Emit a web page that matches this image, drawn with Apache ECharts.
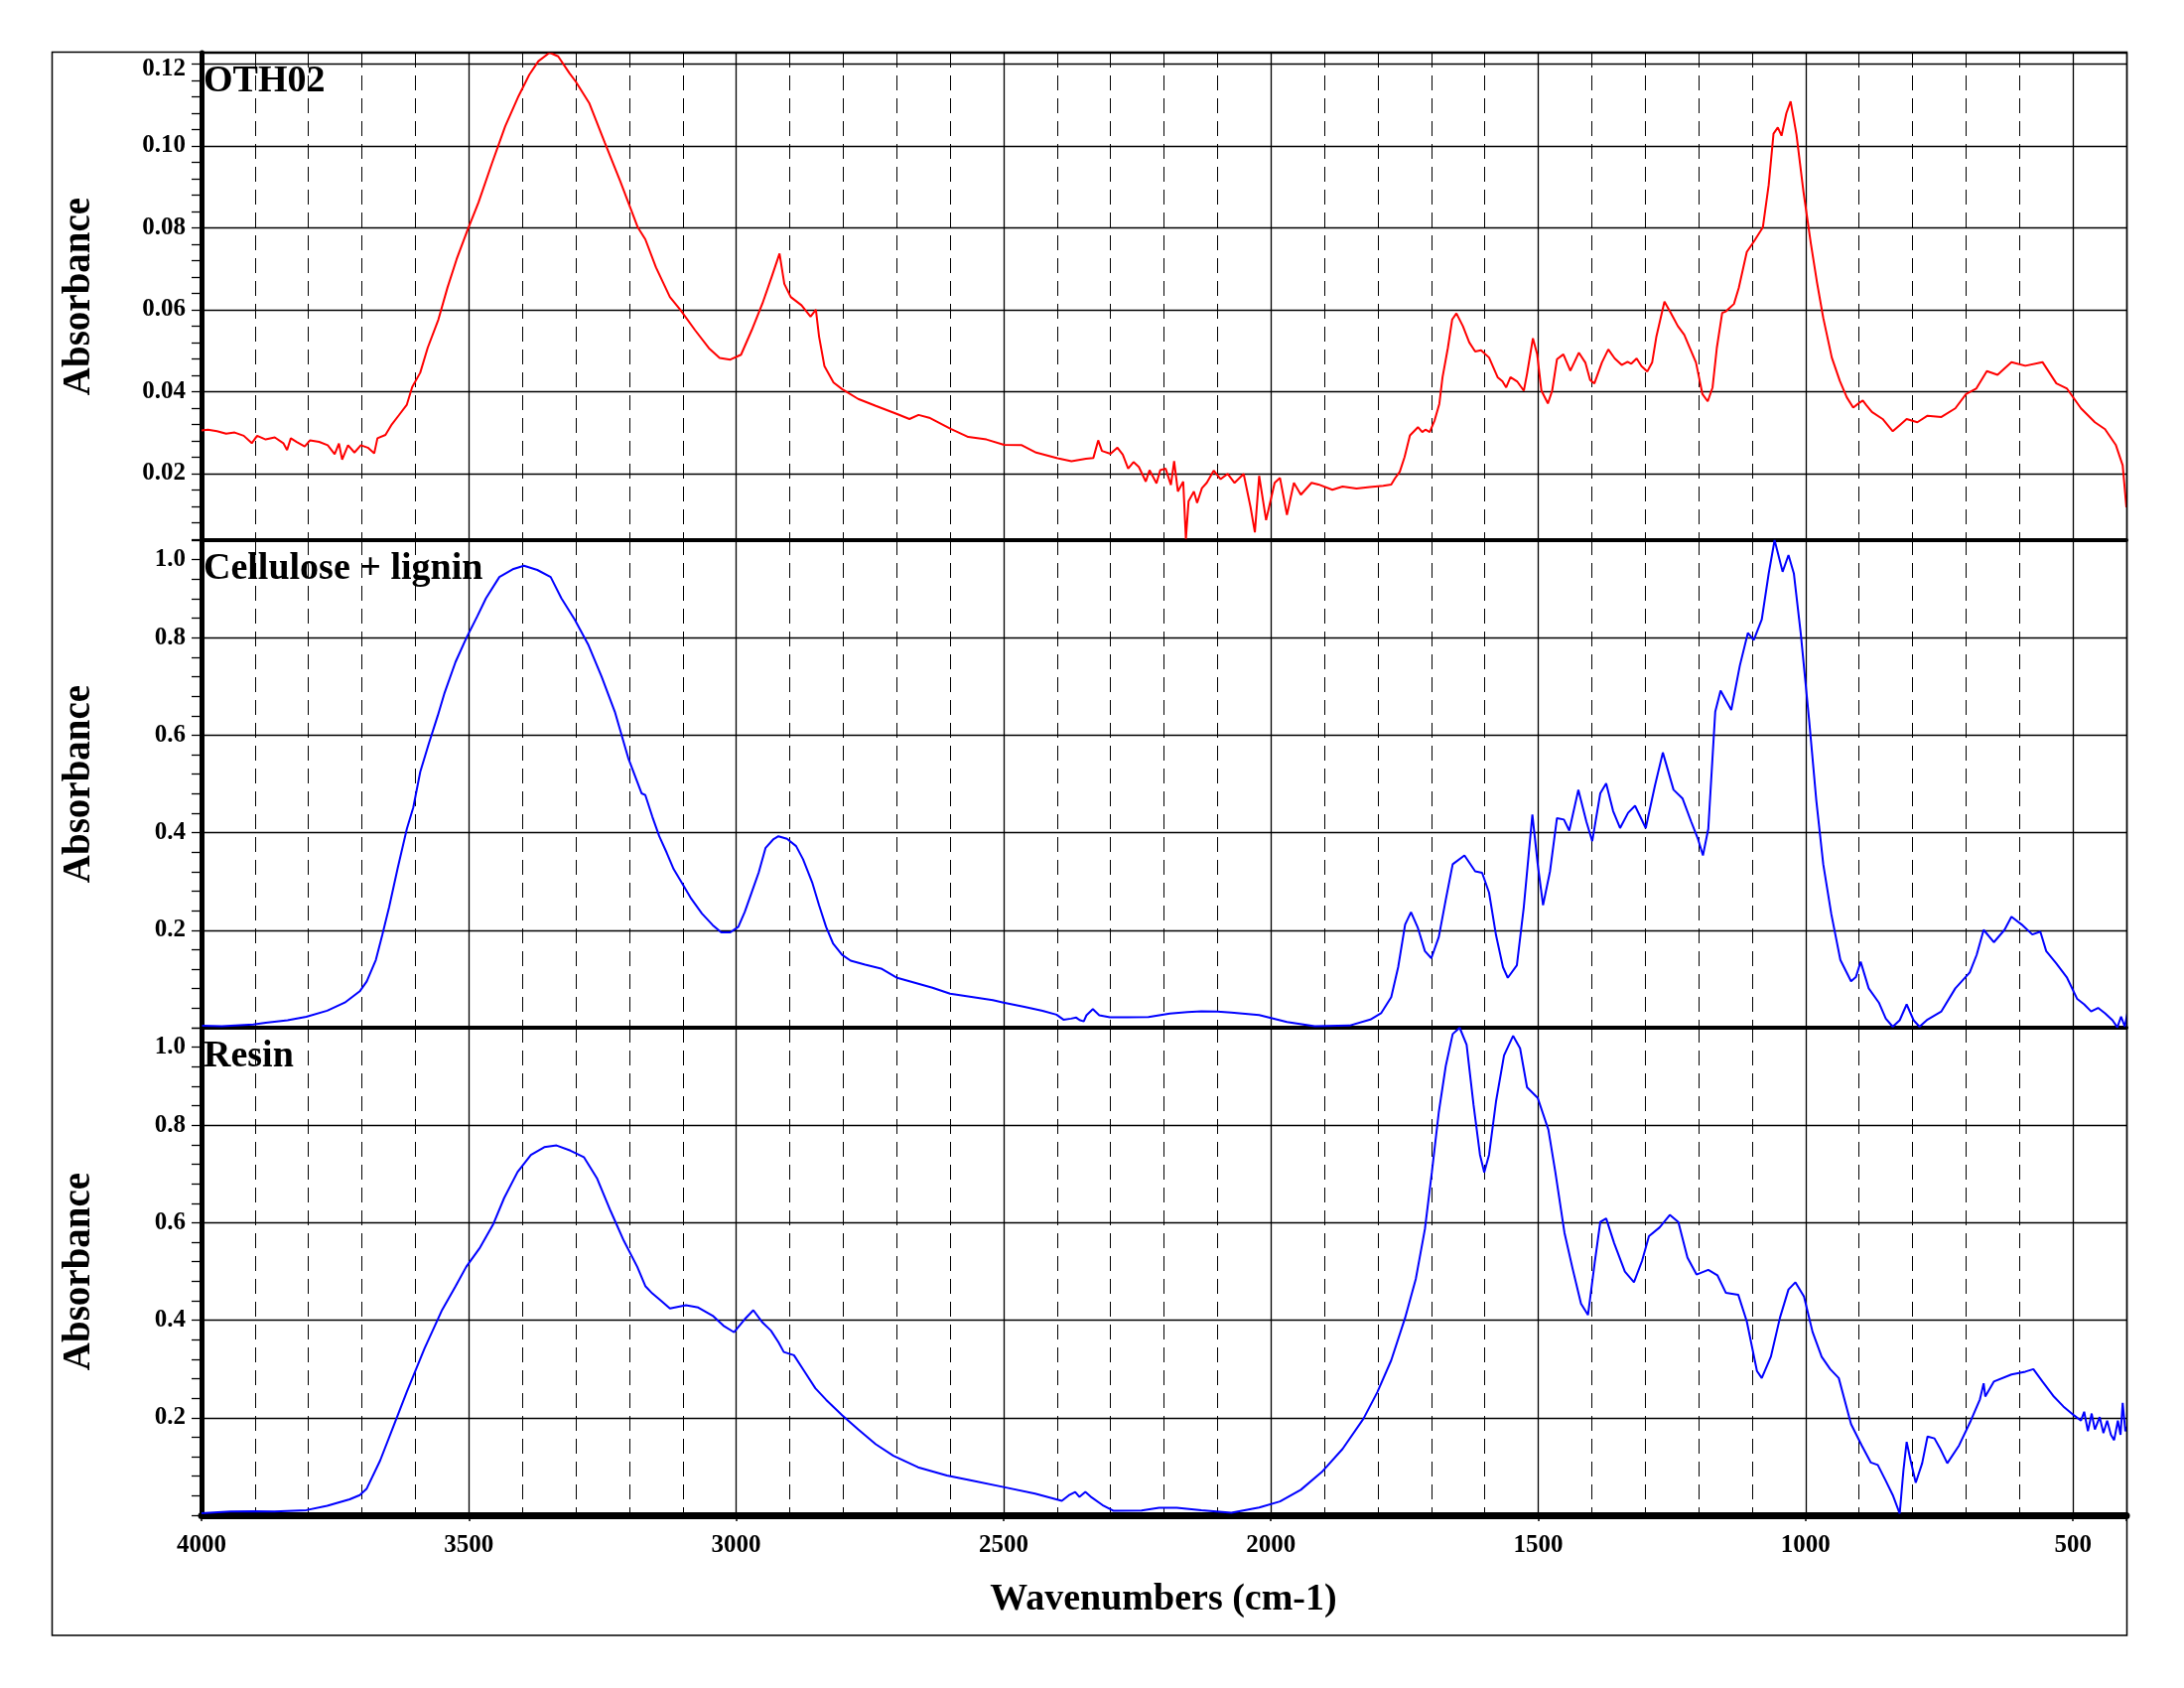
<!DOCTYPE html>
<html>
<head>
<meta charset="utf-8">
<script src="https://cdn.jsdelivr.net/npm/echarts@6/dist/echarts.min.js"></script>
<style>
html, body { margin: 0; background: #fff; }
#spectra { width: 2200px; height: 1700px; }
</style>
</head>
<body>
<div id="spectra"></div>
<script>
// [wavenumber cm-1, absorbance]
var oth02 = [[4000,0.0305],[3988,0.0307],[3971,0.0303],[3954,0.0297],[3938,0.0300],[3921,0.0292],[3906,0.0274],[3896,0.0292],[3880,0.0283],[3863,0.0288],[3847,0.0274],[3840,0.0257],[3833,0.0286],[3822,0.0277],[3807,0.0266],[3797,0.0281],[3780,0.0277],[3764,0.0269],[3751,0.0247],[3743,0.0273],[3737,0.0234],[3726,0.0269],[3714,0.0251],[3702,0.0269],[3689,0.0263],[3677,0.0249],[3671,0.0286],[3656,0.0294],[3644,0.0320],[3631,0.0342],[3616,0.0368],[3606,0.0411],[3591,0.0446],[3577,0.0507],[3557,0.0576],[3540,0.0654],[3523,0.0723],[3503,0.0793],[3482,0.0862],[3457,0.0957],[3432,0.1048],[3407,0.1122],[3387,0.1174],[3370,0.1207],[3349,0.1228],[3333,0.1219],[3312,0.1178],[3300,0.1157],[3275,0.1105],[3246,0.1009],[3217,0.0914],[3184,0.0801],[3170,0.0772],[3150,0.0703],[3124,0.0631],[3104,0.0599],[3077,0.0550],[3051,0.0506],[3031,0.0482],[3011,0.0478],[2991,0.0490],[2971,0.0550],[2951,0.0615],[2934,0.0679],[2919,0.0737],[2910,0.0663],[2898,0.0631],[2878,0.0611],[2861,0.0583],[2851,0.0600],[2845,0.0534],[2835,0.0462],[2818,0.0422],[2802,0.0406],[2772,0.0382],[2739,0.0365],[2699,0.0345],[2676,0.0333],[2659,0.0343],[2639,0.0336],[2599,0.0309],[2566,0.0289],[2532,0.0283],[2499,0.0270],[2466,0.0269],[2439,0.0251],[2399,0.0237],[2373,0.0230],[2346,0.0236],[2332,0.0238],[2323,0.0281],[2316,0.0255],[2300,0.0248],[2287,0.0263],[2277,0.0246],[2267,0.0212],[2257,0.0228],[2247,0.0216],[2234,0.0180],[2227,0.0208],[2214,0.0176],[2207,0.0208],[2197,0.0212],[2187,0.0172],[2181,0.0230],[2174,0.0156],[2164,0.0180],[2159,0.0040],[2154,0.0132],[2144,0.0156],[2138,0.0128],[2129,0.0164],[2120,0.0177],[2107,0.0207],[2094,0.0186],[2081,0.0199],[2068,0.0177],[2051,0.0199],[2038,0.0117],[2030,0.0056],[2022,0.0194],[2009,0.0086],[1993,0.0177],[1983,0.0189],[1970,0.0099],[1957,0.0177],[1944,0.0148],[1924,0.0177],[1911,0.0173],[1885,0.0160],[1866,0.0168],[1840,0.0163],[1815,0.0167],[1790,0.0170],[1775,0.0173],[1768,0.0188],[1759,0.0204],[1750,0.0240],[1740,0.0293],[1725,0.0313],[1717,0.0301],[1711,0.0307],[1703,0.0301],[1694,0.0329],[1685,0.0370],[1679,0.0435],[1669,0.0507],[1661,0.0576],[1653,0.0591],[1641,0.0560],[1629,0.0520],[1618,0.0498],[1607,0.0501],[1592,0.0483],[1576,0.0435],[1567,0.0425],[1560,0.0410],[1552,0.0435],[1539,0.0424],[1527,0.0402],[1521,0.0443],[1510,0.0530],[1502,0.0491],[1494,0.0402],[1482,0.0371],[1474,0.0402],[1465,0.0479],[1453,0.0491],[1440,0.0451],[1424,0.0495],[1412,0.0471],[1403,0.0428],[1395,0.0420],[1381,0.0471],[1369,0.0503],[1357,0.0481],[1344,0.0465],[1333,0.0473],[1326,0.0468],[1316,0.0481],[1307,0.0462],[1296,0.0449],[1287,0.0471],[1279,0.0535],[1264,0.0620],[1252,0.0592],[1239,0.0560],[1227,0.0539],[1218,0.0511],[1205,0.0471],[1193,0.0394],[1183,0.0376],[1174,0.0410],[1166,0.0507],[1156,0.0592],[1149,0.0596],[1134,0.0614],[1125,0.0653],[1110,0.0741],[1097,0.0766],[1080,0.0801],[1069,0.0905],[1060,0.1030],[1052,0.1045],[1045,0.1025],[1036,0.1080],[1028,0.1109],[1017,0.1027],[1004,0.0888],[990,0.0760],[979,0.0669],[967,0.0580],[951,0.0483],[936,0.0426],[923,0.0386],[911,0.0361],[900,0.0372],[893,0.0378],[886,0.0366],[876,0.0350],[856,0.0333],[837,0.0303],[824,0.0318],[811,0.0333],[791,0.0325],[772,0.0341],[746,0.0338],[720,0.0359],[700,0.0394],[681,0.0407],[661,0.0450],[641,0.0441],[615,0.0472],[589,0.0463],[557,0.0472],[531,0.0420],[511,0.0407],[485,0.0359],[459,0.0325],[440,0.0308],[420,0.0270],[407,0.0220],[400,0.0117]];

var cellulose = [[3999,0.0043],[3962,0.0029],[3903,0.0065],[3880,0.0102],[3839,0.0153],[3804,0.0224],[3765,0.0348],[3732,0.0515],[3704,0.0747],[3691,0.0951],[3674,0.1389],[3662,0.1898],[3649,0.2479],[3633,0.3279],[3616,0.4079],[3604,0.4515],[3591,0.5244],[3575,0.5825],[3558,0.6407],[3546,0.6850],[3525,0.7500],[3505,0.7986],[3484,0.8444],[3468,0.8809],[3443,0.9244],[3418,0.9403],[3397,0.9477],[3372,0.9389],[3347,0.9244],[3327,0.8809],[3302,0.8371],[3277,0.7862],[3252,0.7208],[3227,0.6481],[3202,0.5534],[3177,0.4807],[3170,0.4772],[3157,0.4332],[3144,0.3927],[3130,0.3589],[3117,0.3253],[3104,0.3016],[3084,0.2644],[3064,0.2340],[3044,0.2104],[3028,0.1955],[3011,0.1955],[2996,0.2069],[2984,0.2375],[2971,0.2778],[2958,0.3183],[2945,0.3690],[2931,0.3860],[2921,0.3927],[2905,0.3874],[2888,0.3725],[2875,0.3454],[2858,0.2982],[2845,0.2509],[2832,0.2069],[2819,0.1731],[2802,0.1495],[2786,0.1375],[2759,0.1293],[2729,0.1212],[2699,0.1022],[2666,0.0921],[2633,0.0821],[2600,0.0699],[2560,0.0631],[2520,0.0564],[2500,0.0515],[2461,0.0428],[2427,0.0346],[2401,0.0267],[2388,0.0165],[2374,0.0186],[2364,0.0207],[2358,0.0157],[2350,0.0130],[2345,0.0255],[2333,0.0381],[2321,0.0255],[2301,0.0212],[2268,0.0212],[2229,0.0218],[2189,0.0290],[2156,0.0320],[2130,0.0335],[2100,0.0330],[2074,0.0312],[2022,0.0261],[1970,0.0116],[1918,0.0029],[1853,0.0044],[1814,0.0167],[1794,0.0297],[1775,0.0625],[1762,0.1242],[1749,0.2116],[1738,0.2370],[1725,0.2043],[1712,0.1570],[1700,0.1426],[1686,0.1862],[1673,0.2625],[1660,0.3352],[1638,0.3534],[1618,0.3208],[1605,0.3177],[1592,0.2770],[1579,0.1898],[1566,0.1242],[1557,0.1024],[1540,0.1279],[1527,0.2479],[1511,0.4371],[1501,0.3352],[1491,0.2515],[1478,0.3208],[1465,0.4298],[1452,0.4269],[1442,0.4043],[1425,0.4880],[1410,0.4226],[1399,0.3825],[1384,0.4807],[1373,0.5010],[1360,0.4444],[1347,0.4094],[1332,0.4407],[1319,0.4552],[1299,0.4094],[1282,0.4953],[1267,0.5644],[1247,0.4880],[1230,0.4699],[1214,0.4226],[1201,0.3861],[1192,0.3534],[1182,0.4079],[1169,0.6481],[1159,0.6916],[1139,0.6517],[1123,0.7426],[1108,0.8096],[1097,0.7949],[1082,0.8371],[1069,0.9318],[1058,1.0000],[1043,0.9352],[1032,0.9694],[1022,0.9318],[1009,0.8079],[993,0.6263],[980,0.4662],[967,0.3352],[952,0.2334],[935,0.1389],[915,0.0951],[906,0.1037],[897,0.1352],[882,0.0807],[863,0.0515],[850,0.0187],[837,0.0020],[824,0.0153],[811,0.0479],[798,0.0153],[787,0.0020],[772,0.0167],[746,0.0334],[720,0.0807],[693,0.1134],[680,0.1497],[667,0.2006],[648,0.1752],[628,0.2006],[615,0.2275],[596,0.2116],[576,0.1912],[561,0.1970],[550,0.1570],[531,0.1316],[511,0.1024],[492,0.0589],[479,0.0479],[466,0.0334],[453,0.0407],[440,0.0297],[426,0.0153],[417,0.0007],[410,0.0225],[403,0.0020],[397,0.0370]];

var resin = [[4000,0.0043],[3946,0.0077],[3903,0.0079],[3864,0.0077],[3804,0.0104],[3765,0.0193],[3723,0.0326],[3704,0.0413],[3691,0.0546],[3666,0.1120],[3641,0.1827],[3616,0.2534],[3583,0.3418],[3550,0.4212],[3525,0.4696],[3505,0.5094],[3479,0.5493],[3454,0.5978],[3434,0.6507],[3409,0.7039],[3384,0.7391],[3359,0.7550],[3336,0.7585],[3310,0.7479],[3285,0.7346],[3260,0.6904],[3235,0.6242],[3210,0.5625],[3185,0.5094],[3170,0.4700],[3157,0.4550],[3140,0.4395],[3124,0.4240],[3094,0.4308],[3071,0.4260],[3044,0.4092],[3024,0.3888],[3004,0.3753],[2984,0.4022],[2968,0.4206],[2951,0.3955],[2935,0.3786],[2921,0.3550],[2911,0.3348],[2892,0.3281],[2872,0.2943],[2852,0.2605],[2832,0.2369],[2802,0.2051],[2772,0.1760],[2739,0.1456],[2706,0.1220],[2660,0.0984],[2606,0.0815],[2560,0.0713],[2500,0.0578],[2441,0.0444],[2391,0.0295],[2378,0.0409],[2366,0.0477],[2358,0.0375],[2347,0.0477],[2335,0.0363],[2315,0.0208],[2295,0.0092],[2242,0.0096],[2209,0.0153],[2176,0.0153],[2130,0.0100],[2074,0.0049],[2022,0.0159],[1983,0.0282],[1944,0.0522],[1905,0.0885],[1866,0.1359],[1827,0.1978],[1801,0.2523],[1775,0.3177],[1749,0.4050],[1729,0.4849],[1712,0.5868],[1699,0.7033],[1686,0.8269],[1673,0.9214],[1660,0.9870],[1647,1.0000],[1634,0.9652],[1621,0.8413],[1609,0.7395],[1601,0.7033],[1592,0.7395],[1579,0.8487],[1564,0.9432],[1547,0.9833],[1534,0.9578],[1521,0.8778],[1501,0.8560],[1481,0.7904],[1468,0.7033],[1451,0.5796],[1436,0.5069],[1420,0.4340],[1407,0.4108],[1394,0.5214],[1384,0.6014],[1373,0.6088],[1358,0.5578],[1338,0.4996],[1321,0.4778],[1306,0.5214],[1293,0.5723],[1273,0.5904],[1254,0.6159],[1238,0.6014],[1221,0.5287],[1204,0.4937],[1182,0.5033],[1165,0.4923],[1149,0.4560],[1126,0.4523],[1110,0.3977],[1091,0.2959],[1082,0.2813],[1065,0.3250],[1048,0.4050],[1032,0.4631],[1019,0.4778],[1003,0.4487],[987,0.3760],[970,0.3250],[954,0.2996],[938,0.2813],[915,0.1868],[895,0.1432],[878,0.1081],[865,0.1031],[850,0.0705],[837,0.0413],[824,0.0035],[817,0.0923],[811,0.1505],[804,0.1140],[794,0.0668],[782,0.1067],[772,0.1613],[759,0.1576],[748,0.1359],[735,0.1067],[713,0.1432],[691,0.1941],[674,0.2377],[667,0.2705],[664,0.2436],[648,0.2741],[615,0.2886],[589,0.2945],[574,0.2996],[557,0.2741],[537,0.2450],[518,0.2232],[498,0.2049],[485,0.1941],[479,0.2122],[472,0.1723],[465,0.2086],[459,0.1759],[450,0.2013],[443,0.1686],[436,0.1941],[429,0.1650],[423,0.1540],[416,0.1941],[411,0.1650],[407,0.2304],[402,0.1723],[398,0.1832]];

var panelNames = ['OTH02', 'Cellulose + lignin', 'Resin'];
var panelColors = ['#ff0000', '#0000ff', '#0000ff'];
var oth02Ticks = [0.02, 0.04, 0.06, 0.08, 0.10, 0.12];
var absTicks = [0.2, 0.4, 0.6, 0.8, 1.0];
var wnTicks = [4000, 3500, 3000, 2500, 2000, 1500, 1000, 500];

var FONT = 'Liberation Serif';
var panelTop = [53, 544, 1035];
var panelH = 491;
var yRange = [[0.0037, 0.1228], [0, 1], [0, 1]];
var panelData = [oth02, cellulose, resin];

function isTick(v, list) {
    for (var i = 0; i < list.length; i++) {
        if (Math.abs(v - list[i]) < 1e-7) return true;
    }
    return false;
}

// minor tick positions: every fifth of a labelled step
function minorTicks(lo, hi, step) {
    var out = [];
    for (var k = Math.ceil(lo / step - 1e-9); k * step <= hi + 1e-9; k++) {
        out.push(+(k * step).toFixed(4));
    }
    return out;
}

var labelFont = { color: '#000', fontFamily: FONT, fontSize: 25, fontWeight: 'bold' };

var grids = [], xAxes = [], yAxes = [], series = [], graphics = [];

for (var i = 0; i < 3; i++) {
    grids.push({ left: 203, right: 58, top: panelTop[i], height: panelH, outerBoundsMode: 'none' });

    // dashed 100 cm-1 grid
    xAxes.push({
        type: 'value', gridIndex: i, position: 'bottom', min: 400, max: 4000, inverse: true, interval: 100,
        axisLine: { show: false }, axisTick: { show: false }, axisLabel: { show: false },
        splitLine: { show: true, lineStyle: { color: '#000', width: 1, type: [15, 8] } }
    });
    // solid 500 cm-1 grid, thick panel base
    xAxes.push({
        type: 'value', gridIndex: i, position: 'bottom', min: 400, max: 4000, inverse: true, splitNumber: 7,
        axisLine: { show: true, onZero: false, lineStyle: { color: '#000', width: i === 2 ? 7 : 4 } },
        axisTick: { show: i === 2, length: 6, lineStyle: { color: '#000', width: 1.5 } },
        axisLabel: {
            show: i === 2, margin: 18, color: '#000', fontFamily: FONT, fontSize: 25, fontWeight: 'bold',
            formatter: function (v) { return wnTicks.indexOf(v) >= 0 ? String(v) : ''; }
        },
        splitLine: { show: true, lineStyle: { color: '#000', width: 1.3 } }
    });

    var labels = i === 0 ? oth02Ticks : absTicks;
    var digits = i === 0 ? 2 : 1;
    var yMain = {
        type: 'value', gridIndex: i, position: 'left', min: yRange[i][0], max: yRange[i][1],
        axisLine: { show: true, onZero: false, lineStyle: { color: '#000', width: 5 } },
        axisTick: { show: false },
        axisLabel: {
            margin: 16, color: '#000', fontFamily: FONT, fontSize: 25, fontWeight: 'bold',
            formatter: (function (list, d) {
                return function (v) {
                    if (!isTick(v, list)) return '';
                    if (Math.abs(v - list[list.length - 1]) < 1e-7) {
                        return (d === 1 ? '{top|' : '{upper|') + v.toFixed(d) + '}';
                    }
                    return v.toFixed(d);
                };
            })(labels, digits),
            rich: {
                top: Object.assign({ padding: [40, 0, 0, 0] }, labelFont),
                upper: Object.assign({ padding: [10, 0, 0, 0] }, labelFont)
            }
        },
        splitLine: { show: true, lineStyle: { color: '#000', width: 1.3 } }
    };
    if (i > 0) yMain.interval = 0.2; else yMain.splitNumber = 5;
    yAxes.push(yMain);

    yAxes.push({
        type: 'value', gridIndex: i, position: 'left', min: yRange[i][0], max: yRange[i][1],
        axisLine: { show: false },
        axisTick: {
            show: true, length: 10, lineStyle: { color: '#000', width: 1.3 },
            customValues: minorTicks(yRange[i][0], yRange[i][1], i === 0 ? 0.004 : 0.04)
        },
        axisLabel: { show: false },
        splitLine: { show: false }
    });

    series.push({
        type: 'line', name: panelNames[i], xAxisIndex: 2 * i + 1, yAxisIndex: 2 * i,
        data: panelData[i], showSymbol: false, symbol: 'none', z: 5,
        lineStyle: { color: panelColors[i], width: 2 }
    });

    graphics.push({
        type: 'text', x: 205, y: panelTop[i] + 29, silent: true, z: 20,
        style: { text: panelNames[i], fill: '#000', font: 'bold 38px "' + FONT + '"', align: 'left', verticalAlign: 'middle' }
    });
    graphics.push({
        type: 'text', x: 80, y: panelTop[i] + panelH / 2, rotation: Math.PI / 2, silent: true, z: 20,
        style: { text: 'Absorbance', fill: '#000', font: 'bold 39px "' + FONT + '"', align: 'center', verticalAlign: 'middle' }
    });
}

graphics.push({
    type: 'text', x: 1172, y: 1611, silent: true, z: 20,
    style: { text: 'Wavenumbers (cm-1)', fill: '#000', font: 'bold 38px "' + FONT + '"', align: 'center', verticalAlign: 'middle' }
});
graphics.push({
    type: 'rect', silent: true, z: 20,
    shape: { x: 52.5, y: 52.5, width: 2090, height: 1594.5 },
    style: { fill: null, stroke: '#000', lineWidth: 1.5 }
});

var myChart = echarts.init(document.getElementById('spectra'));
var option = {
    backgroundColor: '#fff',
    animation: false,
    grid: grids,
    xAxis: xAxes,
    yAxis: yAxes,
    series: series,
    graphic: graphics
};
myChart.setOption(option);
</script>
</body>
</html>
